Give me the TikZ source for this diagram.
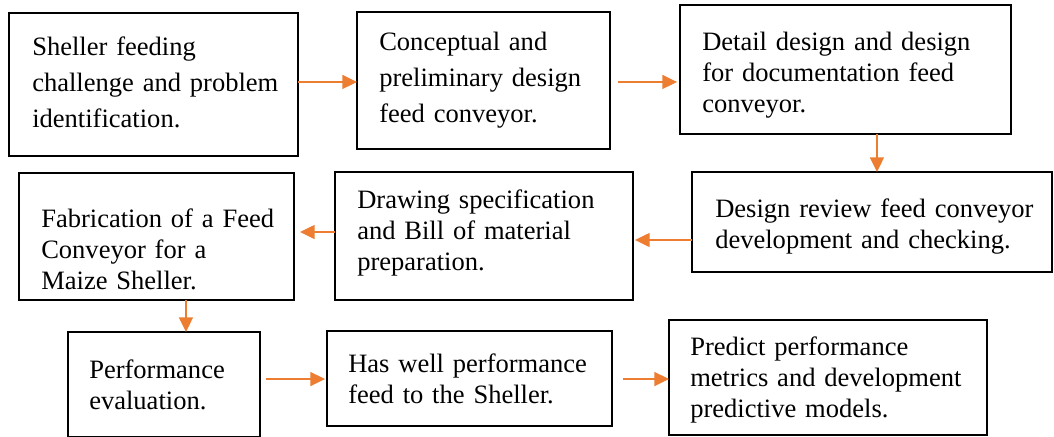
\documentclass[tikz,border=0pt]{standalone}
\usepackage{fontspec}
\setmainfont{Liberation Serif}
\usetikzlibrary{arrows.meta}
\definecolor{arrorange}{HTML}{ED7D31}
\begin{document}
\begin{tikzpicture}[x=0.75pt,y=-0.75pt,
  box/.style={draw=black, line width=1.8pt, inner sep=0pt, outer sep=0pt},
  txttop/.style={anchor=base west, inner sep=0pt, text width=300pt, align=left,
    font=\fontsize{19.9}{27}\selectfont},
  txt/.style={anchor=base west, inner sep=0pt, text width=300pt, align=left,
    font=\fontsize{19.9}{23.4}\selectfont},
  arr/.style={draw=arrorange, line width=1.1pt,
    -{Triangle[length=11pt,width=10.5pt]}}]
\useasboundingbox (0,0) rectangle (1054,436);
% boxes
\node[box, minimum width=216.75pt, minimum height=107.25pt] (b1) at (153.5,84.5) {};
\node[box, minimum width=189.75pt, minimum height=102.75pt] (b2) at (483.5,80.5) {};
\node[box, minimum width=248.25pt, minimum height=96.75pt] (b3) at (845.5,69.5) {};
\node[box, minimum width=270pt, minimum height=75pt] (b4) at (872,222) {};
\node[box, minimum width=223.5pt, minimum height=96pt] (b5) at (484,236) {};
\node[box, minimum width=206.25pt, minimum height=95.25pt] (b6) at (156.5,236.5) {};
\node[box, minimum width=144pt, minimum height=78.75pt] (b7) at (164,384.5) {};
\node[box, minimum width=213.75pt, minimum height=71.25pt] (b8) at (469.5,378.5) {};
\node[box, minimum width=238.5pt, minimum height=86.25pt] (b9) at (828,377.5) {};
% texts
\node[txttop] (t1) at (32,55) {Sheller feeding\\challenge and problem\\identification.};
\node[txttop] (t2) at (379,50) {Conceptual and\\preliminary design\\feed conveyor.};
\node[txt] (t3) at (702,50) {Detail design and design\\for documentation feed\\conveyor.};
\node[txt] (t4) at (715,217) {Design review feed conveyor\\development and checking.};
\node[txt] (t5) at (357,208) {Drawing specification\\and Bill of material\\preparation.};
\node[txt] (t6) at (41,227) {Fabrication of a Feed\\Conveyor for a\\Maize Sheller.};
\node[txt] (t7) at (89,378) {Performance\\evaluation.};
\node[txt] (t8) at (348,372) {Has well performance\\feed to the Sheller.};
\node[txt] (t9) at (690,355) {Predict performance\\metrics and development\\predictive models.};
% connectors
\draw[arr] ([yshift=1.9pt]b1.east) coordinate (s1) -- (s1 -| b2.west);
\draw[arr, shorten <=6pt, shorten >=2.25pt] ([yshift=-1.1pt]b2.east) coordinate (s2) -- (s2 -| b3.west);
\draw[arr] ([xshift=23.6pt]b3.south) coordinate (s3) -- (s3 |- b4.north);
\draw[arr, shorten >=1.5pt] ([yshift=-13.5pt]b4.west) coordinate (s4) -- (s4 -| b5.east);
\draw[arr, shorten >=4.5pt] ([yshift=3pt]b5.west) coordinate (s5) -- (s5 -| b6.east);
\draw[arr] ([xshift=22.1pt]b6.south) coordinate (s6) -- (s6 |- b7.north);
\draw[arr, shorten <=4.5pt, shorten >=1.5pt] ([yshift=4.1pt]b7.east) coordinate (s7) -- (s7 -| b8.west);
\draw[arr, shorten <=8.25pt] ([yshift=-0.4pt]b8.east) coordinate (s8) -- (s8 -| b9.west);
\end{tikzpicture}
\end{document}
